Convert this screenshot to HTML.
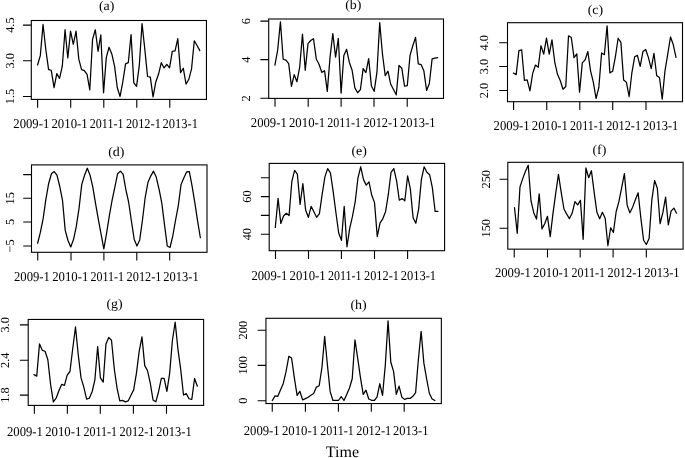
<!DOCTYPE html>
<html lang="en">
<head>
<meta charset="utf-8">
<title>Time series panels</title>
<style>
html,body{margin:0;padding:0;background:#fff;}
body{width:685px;height:458px;overflow:hidden;}
svg{display:block;}
</style>
</head>
<body>
<svg width="685" height="458" viewBox="0 0 685 458">
<rect x="0" y="0" width="685" height="458" fill="#fff"/>
<g fill="none" stroke="#000" stroke-width="1.1" stroke-linecap="butt">
<rect x="31.3" y="20.5" width="175.15" height="78.90"/>
<path d="M23.00 25.1H31.3M23.00 60.8H31.3M23.00 96.5H31.3M37.6 99.4V107.70M70.7 99.4V107.70M103.8 99.4V107.70M136.8 99.4V107.70M169.8 99.4V107.70"/>
<rect x="268.7" y="19.0" width="174.80" height="79.40"/>
<path d="M260.40 21.1H268.7M260.40 59.6H268.7M260.40 98.3H268.7M275.0 98.4V106.70M308.2 98.4V106.70M341.1 98.4V106.70M374.0 98.4V106.70M407.2 98.4V106.70"/>
<rect x="507.5" y="22.7" width="175.00" height="79.00"/>
<path d="M499.20 42.8H507.5M499.20 66.5H507.5M499.20 90.5H507.5M513.6 101.7V110.00M546.75 101.7V110.00M579.8 101.7V110.00M612.7 101.7V110.00M646.0 101.7V110.00"/>
<rect x="31.5" y="164.9" width="175.50" height="87.40"/>
<path d="M23.20 174.6H31.5M23.20 198.3H31.5M23.20 222.0H31.5M23.20 246.0H31.5M37.75 252.3V260.60M71.0 252.3V260.60M103.9 252.3V260.60M136.8 252.3V260.60M169.7 252.3V260.60"/>
<rect x="269.2" y="163.4" width="175.40" height="87.30"/>
<path d="M260.90 177.7H269.2M260.90 196.6H269.2M260.90 215.4H269.2M260.90 234.2H269.2M275.5 250.7V259.00M308.5 250.7V259.00M341.4 250.7V259.00M374.5 250.7V259.00M407.6 250.7V259.00"/>
<rect x="507.8" y="162.3" width="175.30" height="86.85"/>
<path d="M499.50 179.3H507.8M499.50 228.3H507.8M514.25 249.15V257.45M547.5 249.15V257.45M580.2 249.15V257.45M613.1 249.15V257.45M646.3 249.15V257.45"/>
<rect x="28.2" y="319.45" width="175.40" height="85.95"/>
<path d="M19.90 324.9H28.2M19.90 360.2H28.2M19.90 395.1H28.2M34.35 405.4V413.70M67.35 405.4V413.70M100.3 405.4V413.70M133.4 405.4V413.70M166.5 405.4V413.70"/>
<rect x="265.95" y="318.3" width="175.40" height="85.25"/>
<path d="M257.65 330.2H265.95M257.65 365.4H265.95M257.65 400.75H265.95M272.25 403.55V411.85M305.4 403.55V411.85M338.4 403.55V411.85M371.3 403.55V411.85M404.2 403.55V411.85"/>
</g>
<g fill="none" stroke="#000" stroke-width="1.25" stroke-linejoin="round" stroke-linecap="round">
<polyline points="37.55,64.95 40.30,55.66 43.05,24.48 45.80,49.53 48.55,69.33 51.30,70.55 54.05,87.55 56.80,73.53 59.55,78.44 62.30,66.18 65.05,29.74 67.80,57.94 70.55,31.14 73.30,44.28 76.05,31.14 78.80,59.17 81.55,69.68 84.30,70.55 87.05,74.41 89.80,89.82 92.55,39.37 95.30,29.74 98.05,51.28 100.80,34.99 103.55,92.8 106.30,57.42 109.05,47.26 111.80,53.91 114.55,66.18 117.30,87.72 120.05,96.48 122.80,81.94 125.55,63.9 128.30,62.67 131.05,34.64 133.80,82.82 136.55,86.32 139.30,65.3 142.05,23.61 144.80,49.18 147.55,76.51 150.30,77.04 153.05,96.83 155.80,81.94 158.55,74.06 161.30,62.67 164.05,67.93 166.80,64.42 169.55,67.93 172.30,51.28 175.05,50.93 177.80,38.67 180.55,72.66 183.30,68.28 186.05,84.22 188.80,79.31 191.55,68.8 194.30,40.77 197.05,45.5 199.80,50.58"/>
<polyline points="274.90,65.05 277.66,50.16 280.42,21.78 283.17,59.27 285.93,60.15 288.69,63.65 291.45,86.42 294.21,74.69 296.96,81.69 299.72,66.8 302.48,34.04 305.24,70.31 308.00,43.68 310.75,40.53 313.51,38.77 316.27,58.92 319.03,64.18 321.79,72.41 324.54,70.66 327.30,91.33 330.06,57.17 332.82,33.52 335.58,57.17 338.33,38.42 341.09,93.08 343.85,55.42 346.61,49.28 349.37,62.42 352.12,70.31 354.88,87.82 357.64,92.73 360.40,89.58 363.16,68.55 365.91,72.58 368.67,58.57 371.43,86.07 374.19,91.33 376.95,72.06 379.70,22.66 382.46,54.01 385.22,75.56 387.98,71.18 390.74,84.32 393.49,89.58 396.25,94.83 399.01,65.4 401.77,68.2 404.53,86.07 407.28,85.72 410.04,55.42 412.80,45.78 415.56,37.37 418.32,63.82 421.07,64.53 423.83,70.66 426.59,90.45 429.35,83.45 432.11,58.92 434.86,58.04 437.62,57.52"/>
<polyline points="513.40,73.08 516.16,74.66 518.91,50.66 521.67,49.78 524.42,80.44 527.18,79.91 529.94,90.95 532.69,73.43 535.45,65.02 538.20,67.3 540.96,45.75 543.72,54.16 546.47,38.04 549.23,54.16 551.98,39.8 554.74,62.04 557.50,74.31 560.25,80.44 563.01,89.2 565.76,86.57 568.52,35.77 571.28,37.52 574.03,57.66 576.79,53.81 579.54,92.18 582.30,62.92 585.06,59.94 587.81,51.53 590.57,70.8 593.32,82.19 596.08,98.48 598.84,87.45 601.59,52.93 604.35,54.69 607.10,25.78 609.86,72.91 612.62,71.33 615.37,56.79 618.13,38.22 620.88,42.42 623.64,80.09 626.40,82.19 629.15,96.55 631.91,72.55 634.66,56.79 637.42,55.39 640.18,66.42 642.93,51.53 645.69,49.43 648.44,57.66 651.20,68.7 653.96,53.28 656.71,75.71 659.47,77.46 662.22,99.18 664.98,70.8 667.74,54.16 670.49,36.99 673.25,44.53 676.00,57.31"/>
<polyline points="37.65,243.26 40.41,232.22 43.17,218.42 45.92,199.11 48.68,183.47 51.44,173.73 54.20,171.52 56.96,175.2 59.71,186.23 62.47,200.03 65.23,230.38 67.99,240.5 70.75,246.93 73.50,239.58 76.26,226.7 79.02,208.31 81.78,184.39 84.54,175.2 87.29,168.21 90.05,175.2 92.81,187.15 95.57,203.71 98.33,219.34 101.08,234.06 103.84,248.77 106.60,233.14 109.36,215.66 112.12,200.03 114.87,187.15 117.63,173.73 120.39,171.15 123.15,174.28 125.91,189.91 128.66,202.24 131.42,221.18 134.18,239.21 136.94,246.01 139.70,239.94 142.45,220.26 145.21,197.27 147.97,182.37 150.73,176.12 153.49,171.15 156.24,177.04 159.00,188.99 161.76,202.79 164.52,224.86 167.28,246.01 170.03,247.49 172.79,235.9 175.55,220.26 178.31,205.55 181.07,184.39 183.82,177.96 186.58,171.89 189.34,171.52 192.10,186.23 194.86,202.79 197.61,221.18 200.37,237.74"/>
<polyline points="275.30,227.46 278.06,198.4 280.81,223.41 283.57,216.06 286.32,213.3 289.08,215.5 291.84,181.47 294.59,170.44 297.35,174.12 300.10,204.47 302.86,183.68 305.62,209.99 308.37,217.34 311.13,206.31 313.88,211.82 316.64,217.34 319.40,213.66 322.15,194.35 324.91,176.88 327.66,168.6 330.42,172.83 333.18,191.59 335.93,212.74 338.69,232.98 341.44,240.34 344.20,206.31 346.96,246.77 349.71,228.38 352.47,216.42 355.22,201.71 357.98,177.8 360.74,166.76 363.49,179.64 366.25,185.15 369.00,181.84 371.76,195.27 374.52,202.63 377.27,236.66 380.03,222.86 382.78,218.81 385.54,211.82 388.30,194.72 391.05,172.28 393.81,168.6 396.56,180.55 399.32,200.24 402.08,198.58 404.83,200.79 407.59,175.96 410.34,188.83 413.10,217.71 415.86,223.23 418.61,209.07 421.37,179.64 424.12,166.76 426.88,172.28 429.64,174.67 432.39,187.91 435.15,211.46 437.90,211.46"/>
<polyline points="514.50,207.7 517.25,233.27 519.99,186.91 522.74,178.64 525.49,171.28 528.24,165.21 530.98,200.71 533.73,212.66 536.48,219.1 539.22,193.9 541.97,228.85 544.72,223.7 547.46,216.34 550.21,236.58 552.96,213.58 555.71,193.35 558.45,174.4 561.20,192.43 563.95,208.99 566.69,214.14 569.44,218.55 572.19,213.03 574.93,201.63 577.68,204.94 580.43,200.34 583.17,239.34 585.92,167.97 588.67,177.72 591.42,170.73 594.16,192.43 596.91,212.3 599.66,218.73 602.40,212.3 605.15,218.18 607.90,245.77 610.64,227.75 613.39,232.53 616.14,211.74 618.89,201.63 621.63,187.83 624.38,173.67 627.13,204.94 629.87,212.85 632.62,207.15 635.37,199.79 638.12,192.8 640.86,218.18 643.61,240.26 646.36,244.49 649.10,238.42 651.85,199.79 654.60,180.47 657.34,188.2 660.09,223.7 662.84,212.66 665.59,197.03 668.33,224.99 671.08,211.19 673.83,208.07 676.57,213.22"/>
<polyline points="33.97,374.63 36.74,376.1 39.51,343.91 42.28,350.35 45.05,351.27 47.81,359.55 50.58,384.38 53.35,401.85 56.12,398.18 58.89,390.82 61.66,384.38 64.43,385.3 67.20,375.18 69.97,371.5 72.74,348.51 75.50,326.99 78.27,354.95 81.04,377.94 83.81,387.14 86.58,399.09 89.35,398.18 92.12,391.74 94.89,379.78 97.66,346.67 100.43,377.94 103.20,382.17 105.96,343.91 108.73,337.47 111.50,340.23 114.27,368.74 117.04,388.06 119.81,400.93 122.58,400.38 125.35,401.85 128.12,400.93 130.88,395.42 133.65,389.9 136.42,373.34 139.19,351.27 141.96,336.92 144.73,365.62 147.50,370.58 150.27,383.09 153.04,400.01 155.81,401.85 158.57,391.74 161.34,378.49 164.11,378.49 166.88,391.37 169.65,373.34 172.42,340.23 175.19,322.21 177.96,349.43 180.73,369.66 183.50,395.05 186.27,393.58 189.03,398.73 191.80,399.46 194.57,378.49 197.34,386.22"/>
<polyline points="272.30,400.49 275.06,395.89 277.81,396.26 280.57,389.82 283.32,383.38 286.08,371.42 288.84,356.34 291.59,358.0 294.35,377.86 297.10,395.34 299.86,391.29 302.62,399.93 305.37,398.65 308.13,397.18 310.88,395.34 313.64,393.5 316.40,387.06 319.15,385.77 321.91,367.74 324.66,336.47 327.42,364.99 330.18,391.66 332.93,400.49 335.69,400.49 338.44,400.49 341.20,396.62 343.96,400.49 346.71,394.42 349.47,387.98 352.22,378.78 354.98,339.79 357.74,358.55 360.49,377.86 363.25,394.42 366.00,390.19 368.76,399.01 371.52,400.3 374.27,400.49 377.03,397.18 379.78,383.75 382.54,395.34 385.30,364.99 388.05,320.84 390.81,362.23 393.56,371.42 396.32,394.42 399.08,386.14 401.83,397.18 404.59,399.38 407.34,398.46 410.10,398.46 412.86,396.26 415.61,392.58 418.37,359.47 421.12,331.32 423.88,363.15 426.64,378.78 429.39,393.5 432.15,399.01 434.90,400.49"/>
</g>
<g fill="#000" text-rendering="geometricPrecision" font-family="'Liberation Serif', 'Times New Roman', serif">
<text transform="translate(106.6 9.8) scale(1.03 1)" font-size="13.5" text-anchor="middle">(a)</text>
<text transform="translate(13.29 128.2) scale(1.0242 1.09)" font-size="12.4">2009-1</text>
<text transform="translate(51.49 128.2) scale(1.0303 1.09)" font-size="12.4">2010-1</text>
<text transform="translate(89.81 128.2) scale(0.9697 1.09)" font-size="12.4">2011-1</text>
<text transform="translate(125.90 128.2) scale(0.9939 1.09)" font-size="12.4">2012-1</text>
<text transform="translate(162.60 128.2) scale(1.0091 1.09)" font-size="12.4">2013-1</text>
<text transform="translate(13.6 25.1) rotate(-90)" font-size="12.3" text-anchor="middle">4.5</text>
<text transform="translate(13.6 60.8) rotate(-90)" font-size="12.3" text-anchor="middle">3.0</text>
<text transform="translate(13.6 96.5) rotate(-90)" font-size="12.3" text-anchor="middle">1.5</text>
<text transform="translate(353.3 9.4) scale(1.03 1)" font-size="13.5" text-anchor="middle">(b)</text>
<text transform="translate(250.79 126.7) scale(1.0242 1.09)" font-size="12.4">2009-1</text>
<text transform="translate(288.99 126.7) scale(1.0303 1.09)" font-size="12.4">2010-1</text>
<text transform="translate(327.31 126.7) scale(0.9697 1.09)" font-size="12.4">2011-1</text>
<text transform="translate(363.40 126.7) scale(0.9939 1.09)" font-size="12.4">2012-1</text>
<text transform="translate(400.10 126.7) scale(1.0091 1.09)" font-size="12.4">2013-1</text>
<text transform="translate(250.2 21.1) rotate(-90)" font-size="12.3" text-anchor="middle">6</text>
<text transform="translate(250.2 59.6) rotate(-90)" font-size="12.3" text-anchor="middle">4</text>
<text transform="translate(250.2 98.3) rotate(-90)" font-size="12.3" text-anchor="middle">2</text>
<text transform="translate(595.4 14.0) scale(1.03 1)" font-size="13.5" text-anchor="middle">(c)</text>
<text transform="translate(493.59 130.0) scale(1.0242 1.09)" font-size="12.4">2009-1</text>
<text transform="translate(531.79 130.0) scale(1.0303 1.09)" font-size="12.4">2010-1</text>
<text transform="translate(570.11 130.0) scale(0.9697 1.09)" font-size="12.4">2011-1</text>
<text transform="translate(606.20 130.0) scale(0.9939 1.09)" font-size="12.4">2012-1</text>
<text transform="translate(642.90 130.0) scale(1.0091 1.09)" font-size="12.4">2013-1</text>
<text transform="translate(487.7 42.8) rotate(-90)" font-size="12.3" text-anchor="middle">4.0</text>
<text transform="translate(487.7 66.5) rotate(-90)" font-size="12.3" text-anchor="middle">3.0</text>
<text transform="translate(487.7 90.5) rotate(-90)" font-size="12.3" text-anchor="middle">2.0</text>
<text transform="translate(116.3 156.0) scale(1.03 1)" font-size="13.5" text-anchor="middle">(d)</text>
<text transform="translate(13.99 281.0) scale(1.0242 1.09)" font-size="12.4">2009-1</text>
<text transform="translate(52.19 281.0) scale(1.0303 1.09)" font-size="12.4">2010-1</text>
<text transform="translate(90.51 281.0) scale(0.9697 1.09)" font-size="12.4">2011-1</text>
<text transform="translate(126.60 281.0) scale(0.9939 1.09)" font-size="12.4">2012-1</text>
<text transform="translate(163.30 281.0) scale(1.0091 1.09)" font-size="12.4">2013-1</text>
<text transform="translate(13.5 198.3) rotate(-90)" font-size="12.3" text-anchor="middle">15</text>
<text transform="translate(13.5 222.0) rotate(-90)" font-size="12.3" text-anchor="middle">5</text>
<text transform="translate(13.5 246.0) rotate(-90)" font-size="12.3" text-anchor="middle">−5</text>
<text transform="translate(359.1 154.7) scale(1.03 1)" font-size="13.5" text-anchor="middle">(e)</text>
<text transform="translate(251.39 280.3) scale(1.0242 1.09)" font-size="12.4">2009-1</text>
<text transform="translate(289.59 280.3) scale(1.0303 1.09)" font-size="12.4">2010-1</text>
<text transform="translate(327.91 280.3) scale(0.9697 1.09)" font-size="12.4">2011-1</text>
<text transform="translate(364.00 280.3) scale(0.9939 1.09)" font-size="12.4">2012-1</text>
<text transform="translate(400.70 280.3) scale(1.0091 1.09)" font-size="12.4">2013-1</text>
<text transform="translate(250.5 196.6) rotate(-90)" font-size="12.3" text-anchor="middle">60</text>
<text transform="translate(250.5 234.2) rotate(-90)" font-size="12.3" text-anchor="middle">40</text>
<text transform="translate(599.4 153.6) scale(1.03 1)" font-size="13.5" text-anchor="middle">(f)</text>
<text transform="translate(494.89 277.3) scale(1.0242 1.09)" font-size="12.4">2009-1</text>
<text transform="translate(533.09 277.3) scale(1.0303 1.09)" font-size="12.4">2010-1</text>
<text transform="translate(571.41 277.3) scale(0.9697 1.09)" font-size="12.4">2011-1</text>
<text transform="translate(607.50 277.3) scale(0.9939 1.09)" font-size="12.4">2012-1</text>
<text transform="translate(644.20 277.3) scale(1.0091 1.09)" font-size="12.4">2013-1</text>
<text transform="translate(490.0 179.3) rotate(-90)" font-size="12.3" text-anchor="middle">250</text>
<text transform="translate(490.0 228.3) rotate(-90)" font-size="12.3" text-anchor="middle">150</text>
<text transform="translate(114.5 308.3) scale(1.03 1)" font-size="13.5" text-anchor="middle">(g)</text>
<text transform="translate(6.99 436.0) scale(1.0242 1.09)" font-size="12.4">2009-1</text>
<text transform="translate(45.19 436.0) scale(1.0303 1.09)" font-size="12.4">2010-1</text>
<text transform="translate(83.51 436.0) scale(0.9697 1.09)" font-size="12.4">2011-1</text>
<text transform="translate(119.60 436.0) scale(0.9939 1.09)" font-size="12.4">2012-1</text>
<text transform="translate(156.30 436.0) scale(1.0091 1.09)" font-size="12.4">2013-1</text>
<text transform="translate(9.3 324.9) rotate(-90)" font-size="12.3" text-anchor="middle">3.0</text>
<text transform="translate(9.3 360.2) rotate(-90)" font-size="12.3" text-anchor="middle">2.4</text>
<text transform="translate(9.3 395.1) rotate(-90)" font-size="12.3" text-anchor="middle">1.8</text>
<text transform="translate(358.5 308.6) scale(1.03 1)" font-size="13.5" text-anchor="middle">(h)</text>
<text transform="translate(243.69 435.0) scale(1.0242 1.09)" font-size="12.4">2009-1</text>
<text transform="translate(281.89 435.0) scale(1.0303 1.09)" font-size="12.4">2010-1</text>
<text transform="translate(320.21 435.0) scale(0.9697 1.09)" font-size="12.4">2011-1</text>
<text transform="translate(356.30 435.0) scale(0.9939 1.09)" font-size="12.4">2012-1</text>
<text transform="translate(393.00 435.0) scale(1.0091 1.09)" font-size="12.4">2013-1</text>
<text transform="translate(247.3 330.2) rotate(-90)" font-size="12.3" text-anchor="middle">200</text>
<text transform="translate(247.3 365.4) rotate(-90)" font-size="12.3" text-anchor="middle">100</text>
<text transform="translate(247.3 400.75) rotate(-90)" font-size="12.3" text-anchor="middle">0</text>
<text x="325.8" y="457.4" font-size="16">Time</text>
</g>
</svg>
</body>
</html>
